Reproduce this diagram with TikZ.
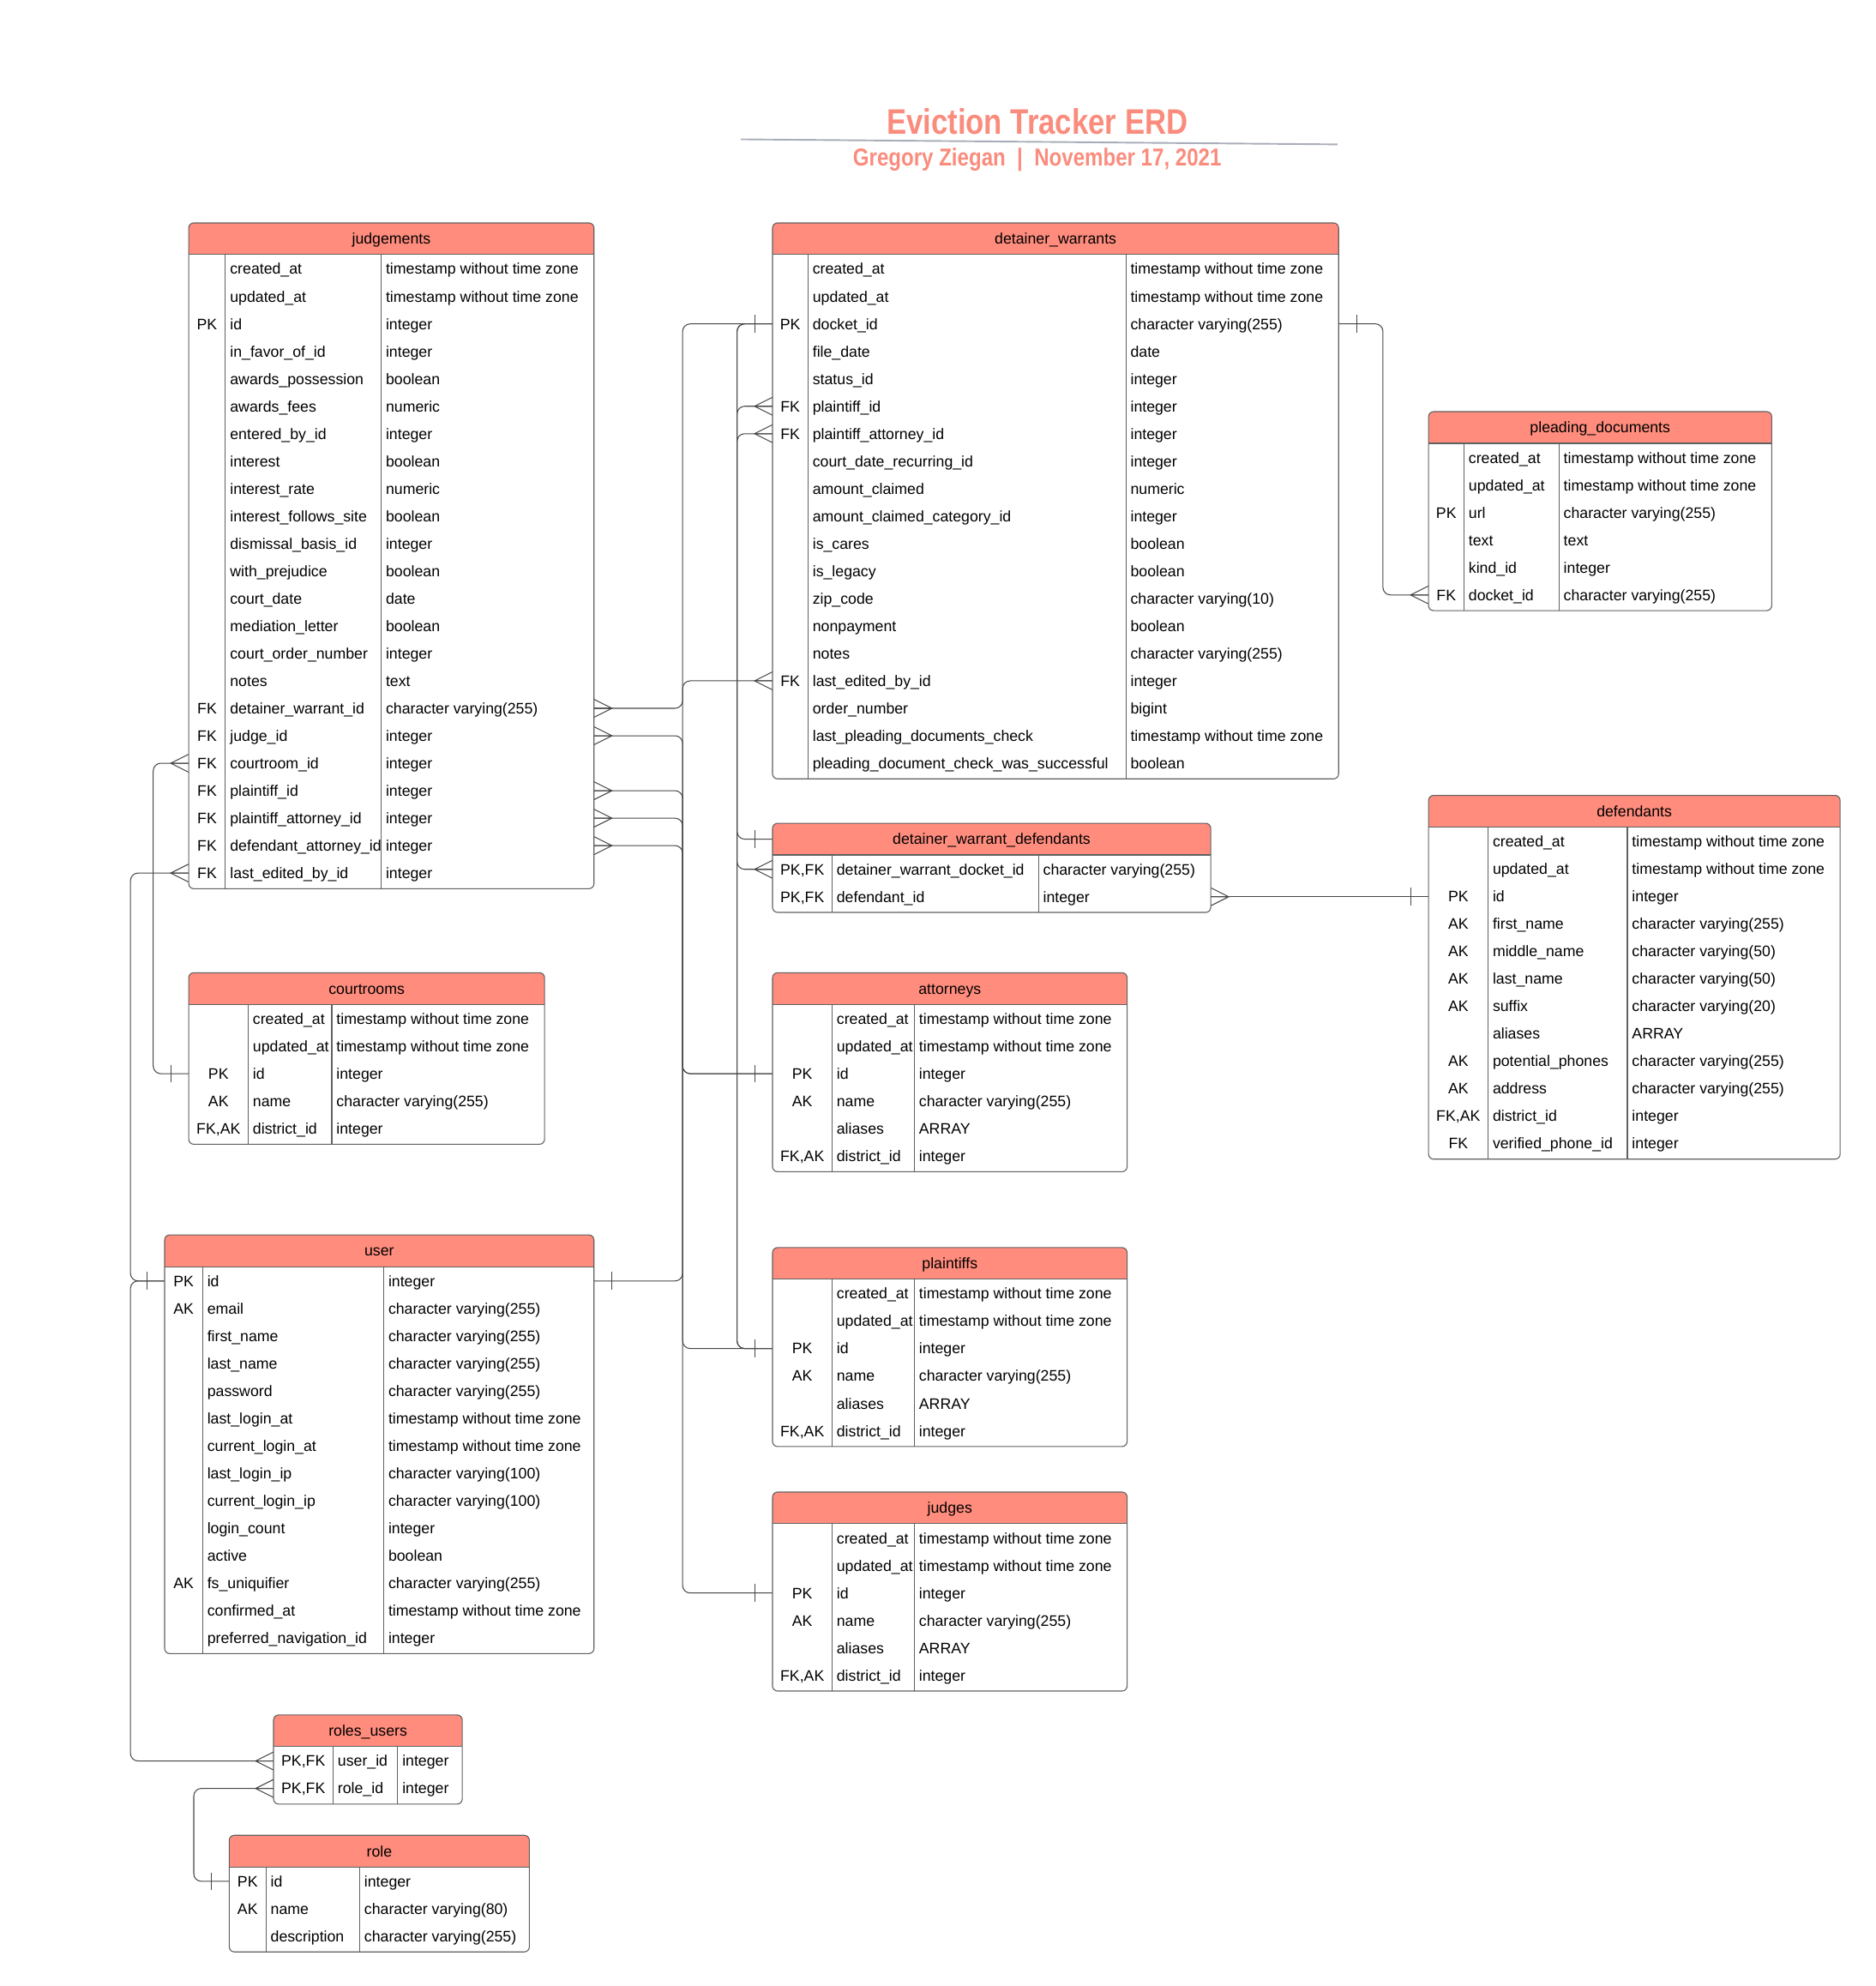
\documentclass[tikz,border=0pt]{standalone}
\usepackage{fontspec}
\setmainfont{Liberation Sans}
\newfontfamily\titlefont[FakeStretch=0.84]{Liberation Sans}
\usepackage{xcolor}
\usepackage{tikz}
\usetikzlibrary{positioning,calc}
\definecolor{salmon}{HTML}{FA8C7D}
\definecolor{hdrred}{HTML}{FF8C7D}
\definecolor{rulegray}{HTML}{A9ADB9}

% table: id, title, left x, top y, key width, name width, type width, rows, row list
\newcommand{\erdtable}[9]{%
  \pgfmathsetmacro{\tw}{#5+#6+#7}%
  \pgfmathsetmacro{\tbot}{#4+25+#8*21.68+2}%
  \pgfmathsetmacro{\ca}{#3+#5}%
  \pgfmathsetmacro{\cb}{#3+#5+#6}%
  \begin{scope}
    \clip[rounded corners=4pt] (#3,#4) rectangle (#3+\tw,\tbot);
    \fill[hdrred] (#3,#4) rectangle (#3+\tw,#4+25);
  \end{scope}
  \node[hdrbox, minimum width=\tw pt] (#1-h) at (#3+\tw/2,#4+12.5) {#2};
  \draw[tabline, rounded corners=4pt] (#3,#4) rectangle (#3+\tw,\tbot);
  \draw[tabline] (#3,#4+25) -- (#3+\tw,#4+25);
  \draw[tabline] (\ca,#4+25) -- (\ca,\tbot);
  \draw[tabline] (\cb,#4+25) -- (\cb,\tbot);
  \foreach [count=\rw] \ky/\nm/\ty in {#9} {
    \pgfmathsetmacro{\ry}{#4+25+11.34+(\rw-1)*21.68}
    \node[rowbox, minimum width=\tw pt] (#1-\rw) at (#3+\tw/2,\ry) {};
    \node[keycell] (#1-k\rw) at (#3+#5/2,\ry) {\ky};
    \node[namecell] (#1-n\rw) at (\ca,\ry) {\nm};
    \node[namecell] (#1-t\rw) at (\cb,\ry) {\ty};
  }%
}

\begin{document}
\begin{tikzpicture}[
    x=1pt, y=-1pt,
    cellfont/.style={font=\fontsize{12}{14}\selectfont, text height=8.6pt, text depth=0pt},
    hdrbox/.style={cellfont, inner sep=0pt, minimum height=25pt},
    rowbox/.style={inner sep=0pt, minimum height=21.68pt},
    keycell/.style={cellfont, inner sep=0pt},
    namecell/.style={cellfont, anchor=west, inner xsep=3.5pt, inner ysep=0pt},
    tabline/.style={draw=black!62, line width=0.75pt},
    link/.style={draw=black!72, line width=0.7pt, rounded corners=6pt},
    erdmark/.style={draw=black!72, line width=0.7pt},
    crowR/.pic={\draw[erdmark] (0,-7) -- (14,0) -- (0,7) (0,0) -- (14,0);},
    crowL/.pic={\draw[erdmark] (0,-7) -- (-14,0) -- (0,7) (0,0) -- (-14,0);},
    barR/.pic={\draw[erdmark] (14,-7) -- (14,7);},
    barL/.pic={\draw[erdmark] (-14,-7) -- (-14,7);}
]
    \useasboundingbox (0,0) rectangle (1481,1568);

    % title block
    \node[font=\titlefont\bfseries\fontsize{28}{32}\selectfont, text=salmon,
          text height=20pt, text depth=0pt, inner sep=0pt] (title) at (819,96) {Eviction Tracker ERD};
    \coordinate (rule-l) at (585,110);
    \coordinate (rule-r) at (1056,114);
    \draw[rulegray, line width=1.3pt] (rule-l) -- (rule-r);
    \node[font=\titlefont\bfseries\fontsize{19.4}{22}\selectfont, text=salmon,
          text height=13.9pt, text depth=0pt, inner sep=0pt] (subtitle) at (819,124)
          {Gregory Ziegan~~|~~November 17, 2021};

    \erdtable{jud}{judgements}{149}{176}{29}{123}{168}{23}{
      /created\_at/timestamp without time zone,
      /updated\_at/timestamp without time zone,
      PK/id/integer,
      /in\_favor\_of\_id/integer,
      /awards\_possession/boolean,
      /awards\_fees/numeric,
      /entered\_by\_id/integer,
      /interest/boolean,
      /interest\_rate/numeric,
      /interest\_follows\_site/boolean,
      /dismissal\_basis\_id/integer,
      /with\_prejudice/boolean,
      /court\_date/date,
      /mediation\_letter/boolean,
      /court\_order\_number/integer,
      /notes/text,
      FK/detainer\_warrant\_id/character varying(255),
      FK/judge\_id/integer,
      FK/courtroom\_id/integer,
      FK/plaintiff\_id/integer,
      FK/plaintiff\_attorney\_id/integer,
      FK/defendant\_attorney\_id/integer,
      FK/last\_edited\_by\_id/integer}

    \erdtable{dw}{detainer\_warrants}{610}{176}{28}{251}{168}{19}{
      /created\_at/timestamp without time zone,
      /updated\_at/timestamp without time zone,
      PK/docket\_id/character varying(255),
      /file\_date/date,
      /status\_id/integer,
      FK/plaintiff\_id/integer,
      FK/plaintiff\_attorney\_id/integer,
      /court\_date\_recurring\_id/integer,
      /amount\_claimed/numeric,
      /amount\_claimed\_category\_id/integer,
      /is\_cares/boolean,
      /is\_legacy/boolean,
      /zip\_code/character varying(10),
      /nonpayment/boolean,
      /notes/character varying(255),
      FK/last\_edited\_by\_id/integer,
      /order\_number/bigint,
      /last\_pleading\_documents\_check/timestamp without time zone,
      /pleading\_document\_check\_was\_successful/boolean}

    \erdtable{pd}{pleading\_documents}{1128}{325}{28}{75}{168}{6}{
      /created\_at/timestamp without time zone,
      /updated\_at/timestamp without time zone,
      PK/url/character varying(255),
      /text/text,
      /kind\_id/integer,
      FK/docket\_id/character varying(255)}

    \erdtable{dwd}{detainer\_warrant\_defendants}{610}{650}{47}{163}{136}{2}{
      {PK,FK}/detainer\_warrant\_docket\_id/character varying(255),
      {PK,FK}/defendant\_id/integer}

    \erdtable{def}{defendants}{1128}{628}{47}{110}{168}{12}{
      /created\_at/timestamp without time zone,
      /updated\_at/timestamp without time zone,
      PK/id/integer,
      AK/first\_name/character varying(255),
      AK/middle\_name/character varying(50),
      AK/last\_name/character varying(50),
      AK/suffix/character varying(20),
      /aliases/ARRAY,
      AK/potential\_phones/character varying(255),
      AK/address/character varying(255),
      {FK,AK}/district\_id/integer,
      FK/verified\_phone\_id/integer}

    \erdtable{crt}{courtrooms}{149}{768}{47}{66}{168}{5}{
      /created\_at/timestamp without time zone,
      /updated\_at/timestamp without time zone,
      PK/id/integer,
      AK/name/character varying(255),
      {FK,AK}/district\_id/integer}

    \erdtable{att}{attorneys}{610}{768}{47}{65}{168}{6}{
      /created\_at/timestamp without time zone,
      /updated\_at/timestamp without time zone,
      PK/id/integer,
      AK/name/character varying(255),
      /aliases/ARRAY,
      {FK,AK}/district\_id/integer}

    \erdtable{pl}{plaintiffs}{610}{985}{47}{65}{168}{6}{
      /created\_at/timestamp without time zone,
      /updated\_at/timestamp without time zone,
      PK/id/integer,
      AK/name/character varying(255),
      /aliases/ARRAY,
      {FK,AK}/district\_id/integer}

    \erdtable{jg}{judges}{610}{1178}{47}{65}{168}{6}{
      /created\_at/timestamp without time zone,
      /updated\_at/timestamp without time zone,
      PK/id/integer,
      AK/name/character varying(255),
      /aliases/ARRAY,
      {FK,AK}/district\_id/integer}

    \erdtable{usr}{user}{130}{975}{30}{143}{166}{14}{
      PK/id/integer,
      AK/email/character varying(255),
      /first\_name/character varying(255),
      /last\_name/character varying(255),
      /password/character varying(255),
      /last\_login\_at/timestamp without time zone,
      /current\_login\_at/timestamp without time zone,
      /last\_login\_ip/character varying(100),
      /current\_login\_ip/character varying(100),
      /login\_count/integer,
      /active/boolean,
      AK/fs\_uniquifier/character varying(255),
      /confirmed\_at/timestamp without time zone,
      /preferred\_navigation\_id/integer}

    \erdtable{ru}{roles\_users}{216}{1354}{47}{51}{51}{2}{
      {PK,FK}/user\_id/integer,
      {PK,FK}/role\_id/integer}

    \erdtable{rl}{role}{181}{1449}{29}{74}{134}{3}{
      PK/id/integer,
      AK/name/character varying(80),
      /description/character varying(255)}

    % vertical runs shared by the connectors
    \coordinate (busA) at (539,0);
    \coordinate (busB) at (582,0);
    \coordinate (busC) at (1092,0);
    \coordinate (busD) at (121,0);
    \coordinate (busE) at (103,0);
    \coordinate (busF) at (153,0);

    % relationships
    \draw[link] (jud-17.east) -| (busA |- dw-3.west) -- (dw-3.west);
    \draw[link] (jud-18.east) -| (busA |- jg-3.west) -- (jg-3.west);
    \draw[link] (jud-20.east) -| (busA |- pl-3.west) -- (pl-3.west);
    \draw[link] (jud-21.east) -| (busA |- att-3.west) -- (att-3.west);
    \draw[link] (jud-22.east) -| (busA |- att-3.west) -- (att-3.west);
    \draw[link] (dw-16.west) -| (busA |- usr-1.east) -- (usr-1.east);
    \draw[link] (dw-3.west) -| (busB |- dwd-h.west) -- (dwd-h.west);
    \draw[link] (dwd-1.west) -| (busB |- dw-3.west) -- (dw-3.west);
    \draw[link] (dw-6.west) -| (busB |- pl-3.west) -- (pl-3.west);
    \draw[link] (dw-7.west) -| (busB |- pl-3.west) -- (pl-3.west);
    \draw[link] (dw-3.east) -| (busC |- pd-6.west) -- (pd-6.west);
    \draw[link] (dwd-2.east) -- (dwd-2.east -| def-3.west);
    \draw[link] (jud-19.west) -| (busD |- crt-3.west) -- (crt-3.west);
    \draw[link] (jud-23.west) -| (busE |- usr-1.west) -- (usr-1.west);
    \draw[link] (ru-1.west) -| (busE |- usr-1.west) -- (usr-1.west);
    \draw[link] (ru-2.west) -| (busF |- rl-1.west) -- (rl-1.west);

    % end marks
    \foreach \p in {jud-17,jud-18,jud-20,jud-21,jud-22,dwd-2}
        \pic at (\p.east) {crowR};
    \foreach \p in {jud-19,jud-23,dw-6,dw-7,dw-16,dwd-1,pd-6,ru-1,ru-2}
        \pic at (\p.west) {crowL};
    \foreach \p in {dw-3,dwd-h,def-3,crt-3,att-3,pl-3,jg-3,usr-1,rl-1}
        \pic at (\p.west) {barL};
    \foreach \p in {dw-3,usr-1}
        \pic at (\p.east) {barR};
\end{tikzpicture}
\end{document}
